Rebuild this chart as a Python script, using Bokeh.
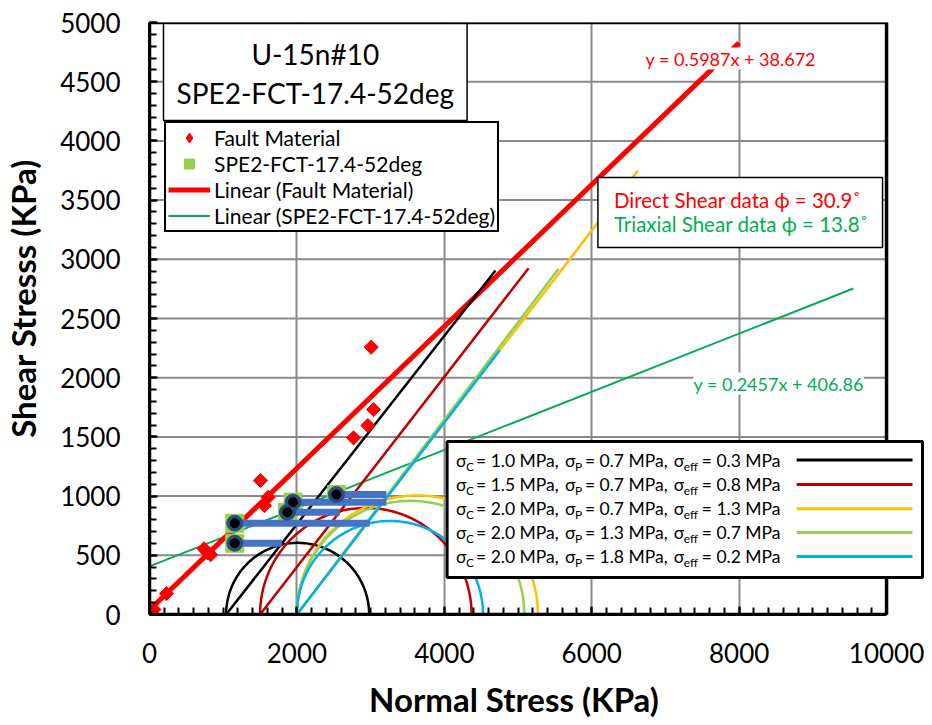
import numpy as np
from bokeh.plotting import figure
from bokeh.models import (Range1d, FixedTicker, Legend, LegendItem, Label,
                          BoxAnnotation, Arrow)
from bokeh.embed import file_html
from bokeh.resources import INLINE

# ---------------- data ----------------
x_ticks = [0, 2000, 4000, 6000, 8000, 10000]
x_minor = list(range(0, 10001, 200))
y_ticks = list(range(0, 5001, 500))
y_minor = list(range(0, 5001, 100))

# Direct shear (fault material) points
fault_x = [60, 230, 740, 790, 830, 1505, 1560, 1610, 2768, 2963, 3008, 3040]
fault_y = [42, 177, 555, 520, 505, 1132, 920, 990, 1492, 1596, 2258, 1731]
fault_fit = [0.5987, 38.672]          # slope, intercept
fault_fit_x = [0, 8000]

# Triaxial (SPE2-FCT-17.4-52deg) points
tri_x = [1157, 1157, 1871, 1948, 2536]
tri_y = [602, 771, 864, 949, 1013]
tri_bar_end = [1800, 2987, 2580, 3214, 3214]
tri_fit = [0.2457, 406.86]
tri_fit_x = [0, 9550]

# Mohr circles and 52 deg lines
mohr_sc = ["1.0", "1.5", "2.0", "2.0", "2.0"]
mohr_sp = ["0.7", "0.7", "0.7", "1.3", "1.8"]
mohr_se = ["0.3", "0.8", "1.3", "0.7", "0.2"]
mohr_colors = ["#000000", "#C00000", "#FFC000", "#92D050", "#00B0F0"]
circle_left = [1040, 1500, 2000, 2000, 2000]
circle_right = [2980, 4370, 5270, 5085, 4525]
circle_peak = [605, 900, 1005, 960, 790]
line_end_x = [4694, 5143, 6626, 5550, 4750]
line_end_y = [2905, 2925, 3750, 2920, 2230]

# ---------------- geometry of the page ----------------
W, H = 930, 724
FL, FR, FT, FB = 148, 926, 22, 614          # frame edges in page pixels
X_PER_PX = x_ticks[-1] / 738.0
Y_PER_PX = y_ticks[-1] / (FB - FT)
X_END = (FR - FL) * X_PER_PX


def sx(px):
    return (px - FL) * X_PER_PX


def sy(py):
    return (FB - py) * Y_PER_PX


FONT = "Lato"
NB = "\u00a0"
p = figure(width=W, height=H, x_range=Range1d(0, X_END), y_range=Range1d(0, y_ticks[-1]),
           output_backend="svg", toolbar_location=None,
           min_border_left=FL, min_border_right=W - FR, min_border_top=FT,
           min_border_bottom=H - FB)
p.outline_line_color = None
p.background_fill_color = "white"
p.border_fill_color = "white"

p.xaxis.ticker = FixedTicker(ticks=x_ticks, minor_ticks=x_minor)
p.yaxis.ticker = FixedTicker(ticks=y_ticks, minor_ticks=y_minor)
p.xaxis.bounds = (x_ticks[0], x_ticks[-1])
p.xgrid.ticker = FixedTicker(ticks=x_ticks)
p.xgrid.grid_line_color = "#8a8a8a"
p.xgrid.grid_line_width = 2
p.ygrid.visible = False
# horizontal grid lines limited to the plotted x extent
p.segment(x0=[x_ticks[0]] * len(y_ticks), x1=[x_ticks[-1]] * len(y_ticks),
          y0=y_ticks, y1=y_ticks, line_color="#8a8a8a", line_width=2, level="underlay")

for ax in (p.xaxis, p.yaxis):
    ax.axis_line_color = "black"
    ax.axis_line_width = 3
    ax.major_tick_in = 8
    ax.major_tick_out = 0
    ax.minor_tick_in = 7
    ax.minor_tick_out = 0
    ax.major_tick_line_width = 2
    ax.minor_tick_line_width = 2
    ax.major_tick_line_color = "black"
    ax.minor_tick_line_color = "black"
    ax.major_label_text_font = FONT
    ax.major_label_text_font_size = "26px"
    ax.major_label_text_color = "black"
    ax.axis_label_text_font = FONT
    ax.axis_label_text_font_size = "33px"
    ax.axis_label_text_font_style = "bold"
    ax.axis_label_text_color = "black"

# the frame is wider than the x axis (room for the Mohr legend), so the titles are
# padded with no-break spaces to centre them on the drawn axes as in the reference
p.xaxis.axis_label = "Normal Stress (KPa)" + NB * 6
p.yaxis.axis_label = NB * 5 + "Shear Stresss (KPa)"
p.xaxis.major_label_standoff = 28
p.yaxis.major_label_standoff = 29
p.xaxis.axis_label_standoff = 13
p.yaxis.axis_label_standoff = 14

# ---------------- glyphs ----------------
tri_fit_y = [tri_fit[0] * x + tri_fit[1] for x in tri_fit_x]
fault_fit_y = [fault_fit[0] * x + fault_fit[1] for x in fault_fit_x]

r_tri_line = p.line(tri_fit_x, tri_fit_y, line_color="#00B050", line_width=2)
r_fault_line = p.line(fault_fit_x, fault_fit_y, line_color="#FF0000", line_width=5)

t = np.linspace(0, np.pi, 120)
for i in range(5):
    c = (circle_left[i] + circle_right[i]) / 2
    a = (circle_right[i] - circle_left[i]) / 2
    p.line(c + a * np.cos(t), circle_peak[i] * np.sin(t),
           line_color=mohr_colors[i], line_width=2.5)
    p.line([circle_left[i], line_end_x[i]], [0, line_end_y[i]],
           line_color=mohr_colors[i], line_width=2.5)

r_sq = p.scatter(tri_x, tri_y, marker="square", size=18, color="#92D050")
p.segment(x0=tri_x, y0=tri_y, x1=tri_bar_end, y1=tri_y, line_color="#4472C4", line_width=7)
p.scatter(tri_x, tri_y, marker="circle", size=16, fill_color="#2E4B7E", line_color="#2E4B7E")
p.scatter(tri_x, tri_y, marker="circle", size=9, fill_color="black", line_color="black")
# fault-material diamonds: a diamond glyph (used for the legend key) under a
# 45-degree square that gives the equal-sided diamond seen in the chart
r_dia = p.scatter(fault_x, fault_y, marker="diamond", size=12,
                  fill_color="#FF0000", line_color="#FF0000")
p.scatter(fault_x, fault_y, marker="square", angle=np.pi / 4, size=10,
          fill_color="#FF0000", line_color="#FF0000")

# ---------------- annotations ----------------
# plot border (top / right)
p.add_layout(BoxAnnotation(left=x_ticks[0], right=x_ticks[-1], bottom=y_ticks[0], top=y_ticks[-1],
                           fill_alpha=0, line_color="black", line_width=3.5, line_alpha=1))

# title box
p.add_layout(BoxAnnotation(left=sx(162), right=sx(466), top=sy(23), bottom=sy(120),
                           fill_color="white", fill_alpha=1, line_color="black",
                           line_width=1.5, line_alpha=1))
for txt, py in (("U-15n#10", 53), ("SPE2-FCT-17.4-52deg", 92)):
    p.add_layout(Label(x=sx(314), y=sy(py), text=txt, text_align="center",
                       text_baseline="middle", text_font=FONT, text_font_size="28px",
                       text_color="black"))

# series legend
legend = Legend(items=[
    LegendItem(label="Fault Material", renderers=[r_dia]),
    LegendItem(label="SPE2-FCT-17.4-52deg", renderers=[r_sq]),
    LegendItem(label="Linear (Fault Material)", renderers=[r_fault_line]),
    LegendItem(label="Linear (SPE2-FCT-17.4-52deg)", renderers=[r_tri_line]),
], location=(163 - FL, FB - 232))
legend.border_line_color = "black"
legend.border_line_width = 2
legend.border_line_alpha = 1
legend.background_fill_alpha = 1
legend.padding = 2
legend.spacing = 1
legend.margin = 0
legend.glyph_width = 42
legend.glyph_height = 25
legend.label_height = 25
legend.label_standoff = 4
legend.label_text_font = FONT
legend.label_text_font_size = "21px"
legend.label_text_color = "black"
p.add_layout(legend)

# trendline equations
p.add_layout(Label(x=sx(730), y=sy(58), text="y = 0.5987x + 38.672", text_align="center",
                   text_baseline="middle", text_font=FONT, text_font_size="18px",
                   text_color="#FF0000", background_fill_color="white"))
p.add_layout(Label(x=sx(778), y=sy(383), text="y = 0.2457x + 406.86", text_align="center",
                   text_baseline="middle", text_font=FONT, text_font_size="18px",
                   text_color="#00B050", background_fill_color="white"))

# friction angle box
p.add_layout(BoxAnnotation(left=sx(597), right=sx(882), top=sy(177), bottom=sy(247),
                           fill_color="white", fill_alpha=1, line_color="black",
                           line_width=1.5, line_alpha=1))
p.add_layout(Label(x=sx(613), y=sy(199), text="Direct Shear data \u03d5 = 30.9\u02da",
                   text_align="left", text_baseline="middle", text_font=FONT,
                   text_font_size="20.5px", text_color="#FF0000"))
p.add_layout(Label(x=sx(613), y=sy(223), text="Triaxial Shear data \u03d5 = 13.8\u02da",
                   text_align="left", text_baseline="middle", text_font=FONT,
                   text_font_size="20.5px", text_color="#00B050"))

# Mohr circle legend box
p.add_layout(BoxAnnotation(left=sx(446), right=sx(922), top=sy(441), bottom=sy(577),
                           fill_color="white", fill_alpha=1, line_color="black",
                           line_width=3, line_alpha=1))
row_py = [459.5, 484, 508.3, 532, 556]
for i in range(5):
    py = row_py[i]
    pieces = [
        (455, "\u03c3", False), (465, "C", True), (475, "= " + mohr_sc[i] + " MPa,", False),
        (564, "\u03c3", False), (574, "P", True), (584, "= " + mohr_sp[i] + " MPa,", False),
        (673, "\u03c3", False), (683, "eff", True), (701, "= " + mohr_se[i] + " MPa", False),
    ]
    for px, txt, sub in pieces:
        p.add_layout(Label(x=sx(px), y=sy(py + (6 if sub else 0)), text=txt,
                           text_align="left", text_baseline="middle", text_font=FONT,
                           text_font_size="12px" if sub else "17.5px", text_color="black"))
    p.add_layout(Arrow(end=None, x_start=sx(796), y_start=sy(py), x_end=sx(912), y_end=sy(py),
                       line_color=mohr_colors[i], line_width=3))

open("out.html", "w").write(file_html(p, INLINE))
